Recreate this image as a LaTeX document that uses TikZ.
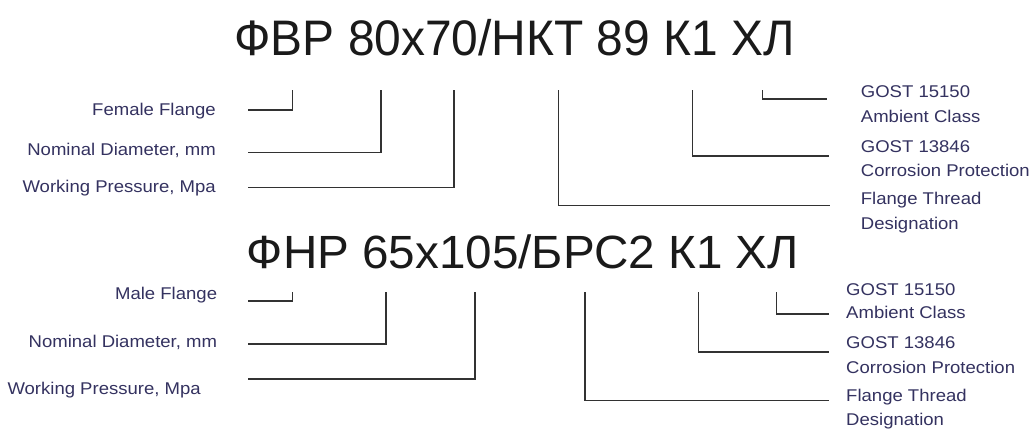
\documentclass[tikz,border=0pt]{standalone}
\usepackage{fontspec}
\setmainfont{Liberation Sans}
\definecolor{lbl}{RGB}{52,50,96}
\definecolor{ttl}{RGB}{26,26,26}
\definecolor{ln}{RGB}{50,50,50}
\newcommand{\lb}[1]{\scalebox{1.09}[1]{#1}}
\newcommand{\ttlsc}[2]{\scalebox{#1}[1]{#2}}
\tikzset{
  lbltext/.style={inner sep=0pt, text=lbl, font=\fontsize{17}{25}\selectfont},
  ttltext/.style={inner sep=0pt, text=ttl, anchor=base west},
  conn/.style={draw=ln, line width=1.1pt}
}
\begin{document}
\begin{tikzpicture}[x=1pt,y=-1pt]
\useasboundingbox[fill=white] (0,0) rectangle (1035,428);
% titles
\node[ttltext, font=\fontsize{49.9}{50}\selectfont] (t1) at (234.3,56) {\ttlsc{0.96}{ФВР 80x70/НКТ 89 К1 ХЛ}};
\node[ttltext, font=\fontsize{46.6}{47}\selectfont] (t2) at (246.7,268.7) {\ttlsc{1.022}{ФНР 65x105/БРС2 К1 ХЛ}};
% top left labels
\node[lbltext, anchor=base east] (a1) at (216,115) {\lb{Female Flange}};
\node[lbltext, anchor=base east] (a2) at (216,155) {\lb{Nominal Diameter, mm}};
\node[lbltext, anchor=base east] (a3) at (216,192) {\lb{Working Pressure, Mpa}};
% top right labels (anchor = baseline of last line)
\node[lbltext, anchor=base west, align=left] (b1) at (860.7,122.5) {\lb{GOST 15150}\\\lb{Ambient Class}};
\node[lbltext, anchor=base west, align=left] (b2) at (860.7,176.5) {\lb{GOST 13846}\\[-1pt]\lb{Corrosion Protection}};
\node[lbltext, anchor=base west, align=left] (b3) at (860.7,229) {\lb{Flange Thread}\\\lb{Designation}};
% bottom left labels
\node[lbltext, anchor=base east] (c1) at (217.3,299) {\lb{Male Flange}};
\node[lbltext, anchor=base east] (c2) at (217.3,347.5) {\lb{Nominal Diameter, mm}};
\node[lbltext, anchor=base west] (c3) at (7.3,394) {\lb{Working Pressure, Mpa}};
% bottom right labels
\node[lbltext, anchor=base west, align=left] (d1) at (846,318.5) {\lb{GOST 15150}\\[-1.5pt]\lb{Ambient Class}};
\node[lbltext, anchor=base west, align=left] (d2) at (846,373) {\lb{GOST 13846}\\[-0.5pt]\lb{Corrosion Protection}};
\node[lbltext, anchor=base west, align=left] (d3) at (846,425) {\lb{Flange Thread}\\[-1pt]\lb{Designation}};
% connector points
\coordinate (pa1) at (292.7,90);  \coordinate (qa1) at (248.3,110);
\coordinate (pa2) at (381,90);    \coordinate (qa2) at (248.3,152.7);
\coordinate (pa3) at (454,90);    \coordinate (qa3) at (248.3,187.7);
\coordinate (pb1) at (762.3,90);  \coordinate (qb1) at (827.3,99);
\coordinate (pb2) at (692.7,90);  \coordinate (qb2) at (829.3,156);
\coordinate (pb3) at (558.3,90);  \coordinate (qb3) at (830,205.7);
\coordinate (pc1) at (292.3,291.7); \coordinate (qc1) at (248.3,301);
\coordinate (pc2) at (386,291.7);   \coordinate (qc2) at (248.3,344);
\coordinate (pc3) at (475,291.7);   \coordinate (qc3) at (248.3,379);
\coordinate (pd1) at (776.7,292.3); \coordinate (qd1) at (829.3,314);
\coordinate (pd2) at (698.3,292.3); \coordinate (qd2) at (829.3,352);
\coordinate (pd3) at (585,292.3);   \coordinate (qd3) at (829.3,400.7);
\foreach \k in {a1,a2,a3,c1,c2,c3} { \draw[conn] (q\k) -| (p\k); }
\foreach \k in {b1,b2,b3,d1,d2,d3} { \draw[conn] (p\k) |- (q\k); }
\end{tikzpicture}
\end{document}
